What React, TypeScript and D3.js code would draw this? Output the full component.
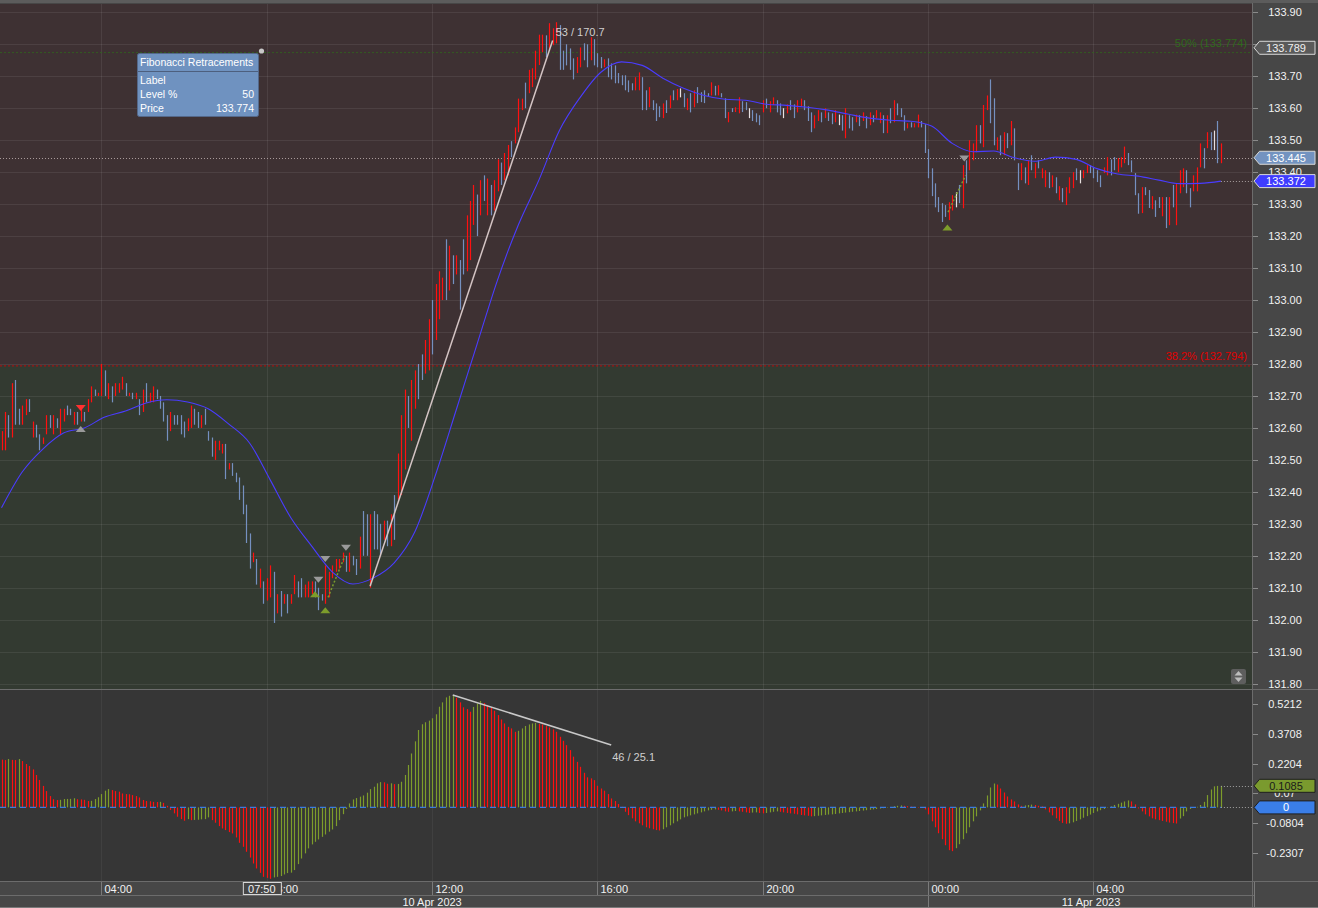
import React from 'react';
import * as d3 from 'd3';

// ---------- DATA ----------
const START = Date.UTC(2023, 3, 10, 1, 35); // first bar 10 Apr 2023 01:35 (5-minute bars)
const BAR_MIN = 5;

const barHigh = [
  132.59,132.65,132.64,132.74,132.75,132.66,132.67,132.69,132.69,132.62,
  132.61,132.58,132.57,132.64,132.64,132.64,132.63,132.66,132.66,132.67,
  132.66,132.65,132.65,132.66,132.65,132.69,132.73,132.72,132.71,132.80,
  132.78,132.74,132.73,132.74,132.74,132.76,132.74,132.71,132.71,132.71,
  132.69,132.72,132.74,132.71,132.73,132.72,132.70,132.68,132.64,132.65,
  132.64,132.64,132.64,132.62,132.63,132.67,132.66,132.65,132.64,132.66,
  132.59,132.57,132.56,132.56,132.55,132.55,132.49,132.49,132.46,132.445,
  132.42,132.36,132.27,132.21,132.19,132.16,132.12,132.13,132.17,132.15,
  132.08,132.09,132.08,132.08,132.08,132.14,132.12,132.13,132.11,132.12,
  132.12,132.12,132.10,132.08,132.17,132.15,132.17,132.19,132.19,132.21,
  132.20,132.21,132.20,132.19,132.26,132.34,132.33,132.33,132.34,132.33,
  132.30,132.31,132.31,132.33,132.39,132.52,132.64,132.72,132.70,132.75,
  132.78,132.80,132.83,132.875,132.94,133.00,133.05,133.09,133.07,133.19,
  133.17,133.14,133.14,133.125,133.19,133.265,133.31,133.36,133.33,133.375,
  133.39,133.38,133.36,133.375,133.44,133.43,133.46,133.485,133.497,133.54,
  133.63,133.63,133.68,133.72,133.725,133.78,133.83,133.83,133.828,133.866,
  133.85,133.869,133.86,133.78,133.80,133.787,133.756,133.76,133.79,133.803,
  133.80,133.822,133.816,133.772,133.76,133.753,133.756,133.74,133.734,133.71,
  133.703,133.703,133.687,133.678,133.697,133.712,133.697,133.656,133.666,133.625,
  133.615,133.606,133.615,133.625,133.64,133.656,133.66,133.662,133.647,133.631,
  133.647,133.656,133.666,133.65,133.656,133.647,133.681,133.67,133.672,133.647,
  133.631,133.588,133.60,133.603,133.634,133.622,133.619,133.60,133.594,133.584,
  133.578,133.625,133.63,133.622,133.634,133.625,133.615,133.60,133.612,133.625,
  133.612,133.625,133.63,133.625,133.606,133.587,133.578,133.594,133.587,133.60,
  133.587,133.584,133.594,133.58,133.578,133.60,133.578,133.572,133.58,133.578,
  133.587,133.575,133.587,133.578,133.594,133.587,133.578,133.578,133.60,133.625,
  133.615,133.60,133.578,133.553,133.556,133.553,133.58,133.56,133.55,133.472,
  133.412,133.365,133.322,133.303,133.297,133.306,133.328,133.337,133.36,133.422,
  133.437,133.50,133.49,133.547,133.547,133.61,133.64,133.69,133.631,133.509,
  133.515,133.525,133.522,133.56,133.537,133.428,133.428,133.415,133.437,133.453,
  133.428,133.437,133.412,133.406,133.40,133.39,133.384,133.356,133.35,133.353,
  133.384,133.40,133.412,133.406,133.406,133.422,133.422,133.415,133.406,133.39,
  133.415,133.447,133.44,133.447,133.444,133.447,133.48,133.46,133.437,133.397,
  133.334,133.353,133.353,133.344,133.325,133.312,133.322,133.322,133.322,133.322,
  133.36,133.365,133.406,133.412,133.406,133.35,133.39,133.415,133.49,133.475,
  133.525,133.525,133.53,133.56,133.49,
];

const barLow = [
  132.53,132.53,132.57,132.57,132.61,132.61,132.61,132.64,132.65,132.57,
  132.57,132.53,132.55,132.58,132.60,132.58,132.60,132.58,132.62,132.64,
  132.64,132.61,132.61,132.62,132.62,132.65,132.68,132.70,132.70,132.70,
  132.70,132.69,132.68,132.70,132.71,132.72,132.70,132.70,132.69,132.69,
  132.64,132.65,132.68,132.68,132.68,132.69,132.66,132.62,132.56,132.59,
  132.61,132.61,132.58,132.57,132.59,132.60,132.61,132.60,132.60,132.61,
  132.56,132.51,132.50,132.53,132.52,132.44,132.47,132.45,132.43,132.375,
  132.33,132.24,132.16,132.18,132.11,132.10,132.05,132.06,132.07,131.99,
  132.02,132.01,132.05,132.02,132.05,132.08,132.07,132.07,132.07,132.07,
  132.08,132.07,132.03,132.06,132.05,132.07,132.13,132.15,132.16,132.18,
  132.15,132.15,132.17,132.14,132.16,132.20,132.20,132.10,132.22,132.22,
  132.20,132.25,132.23,132.23,132.25,132.375,132.39,132.47,132.60,132.56,
  132.66,132.69,132.75,132.77,132.78,132.83,132.875,132.94,133.00,133.00,
  133.03,133.05,133.08,132.97,133.08,133.09,133.125,133.235,133.20,133.265,
  133.31,133.265,133.265,133.28,133.34,133.36,133.375,133.39,133.447,133.49,
  133.525,133.594,133.60,133.647,133.666,133.69,133.735,133.775,133.76,133.78,
  133.797,133.803,133.72,133.72,133.734,133.72,133.69,133.71,133.728,133.75,
  133.728,133.75,133.734,133.728,133.725,133.728,133.697,133.69,133.678,133.678,
  133.672,133.656,133.65,133.656,133.656,133.656,133.594,133.594,133.603,133.594,
  133.56,133.572,133.569,133.585,133.60,133.625,133.625,133.634,133.603,133.594,
  133.587,133.603,133.616,133.619,133.616,133.638,133.64,133.64,133.64,133.634,
  133.569,133.556,133.588,133.588,133.584,133.588,133.594,133.569,133.56,133.556,
  133.547,133.587,133.60,133.587,133.61,133.587,133.578,133.569,133.584,133.594,
  133.569,133.587,133.606,133.594,133.56,133.525,133.537,133.56,133.556,133.569,
  133.56,133.55,133.556,133.547,133.53,133.506,133.537,133.53,133.556,133.544,
  133.56,133.537,133.547,133.556,133.569,133.553,133.522,133.522,133.553,133.556,
  133.578,133.572,133.53,133.537,133.54,133.54,133.54,133.54,133.46,133.381,
  133.325,133.29,133.275,133.244,133.26,133.25,133.28,133.29,133.303,133.287,
  133.365,133.406,133.437,133.462,133.49,133.478,133.594,133.553,133.484,133.469,
  133.453,133.453,133.475,133.484,133.437,133.344,133.375,133.365,133.36,133.406,
  133.381,133.412,133.381,133.353,133.35,133.353,133.334,133.312,133.306,133.297,
  133.334,133.35,133.375,133.365,133.381,133.397,133.397,133.381,133.369,133.353,
  133.397,133.39,133.39,133.406,133.40,133.415,133.428,133.422,133.40,133.328,
  133.27,133.272,133.328,133.288,133.284,133.26,133.288,133.262,133.225,133.234,
  133.29,133.234,133.334,133.353,133.334,133.29,133.34,133.34,133.415,133.412,
  133.475,133.469,133.469,133.428,133.428,
];

// r = rising bar (red), b = falling bar (blue), w = unchanged (white)
const barKind = (
  "rrbrbbrrbr" + "bbrrbrbrrb" + "brbrbrrbrr" + "brbrrrbrbr" + "brbrrbbbbr" +
  "bbbbrrbbrb" + "bbrrrbrbbb" + "bbbrbrbrrb" + "rbrbrrbbrr" + "rbbbrrrrrr" +
  "brbbrbbrbb" + "brbrbrrrbr" + "rbbrrbrrrb" + "rbrbbrrrbr" + "brbrrbrrbr" +
  "rrbrrrrrbr" + "rrbbbbbrrb" + "brbbbrbbbb" + "bbbbrrbbrb" + "bbrbrbrwbr" +
  "brbbbbrbrb" + "brbrrbbwbb" + "brbrrbbwrb" + "brrbbbrrbr" + "bbrwbrbbrb" +
  "rbrbrrbrbr" + "bbbrbrrbbb" + "bbbbbrrwbr" + "brrrbrrbbr" + "brbrbbrbrb" +
  "rbrrbrbrbr" + "rrbwrrbbbb" + "rrbbrrrbbb" + "brbbrbbrbr" + "brrrbbrrrb" +
  "rbwbr"
).split("");

// moving average, read every 6th bar
const maBar = [0,6,12,18,24,30,36,42,48,54,60,66,72,78,84,90,96,102,108,114,120,126,132,138,144,150,156,162,168,174,
  180,186,192,198,204,210,216,222,228,234,240,246,252,258,264,270,276,282,288,294,300,306,312,318,324,330,336,342,348,354];
const maValue = [132.35,132.462,132.534,132.584,132.60,132.634,132.653,132.678,132.688,132.681,132.66,132.612,132.553,132.4375,132.319,
  132.231,132.15,132.112,132.131,132.178,132.275,132.453,132.656,132.86,133.0625,133.234,133.375,133.531,133.634,133.7125,
  133.745,133.734,133.694,133.6625,133.64,133.628,133.625,133.6125,133.609,133.603,133.594,133.581,133.569,133.5625,133.559,
  133.544,133.49,133.464,133.466,133.445,133.434,133.447,133.44,133.411,133.394,133.3875,133.375,133.364,133.365,133.372];

// oscillator histogram, one value per bar
const histValue = [
  0.240,0.238,0.243,0.239,0.238,0.243,0.233,0.218,0.208,0.191,
  0.163,0.138,0.108,0.082,0.057,0.041,0.037,0.038,0.042,0.0425,
  0.043,0.046,0.041,0.040,0.038,0.032,0.033,0.042,0.051,0.067,
  0.084,0.092,0.087,0.082,0.079,0.070,0.067,0.066,0.062,0.057,
  0.050,0.037,0.032,0.031,0.028,0.027,0.028,0.023,0.008,-0.013,
  -0.030,-0.047,-0.059,-0.067,-0.059,-0.064,-0.063,-0.062,-0.060,-0.059,
  -0.050,-0.064,-0.077,-0.094,-0.106,-0.114,-0.124,-0.131,-0.151,-0.178,
  -0.198,-0.223,-0.252,-0.282,-0.307,-0.329,-0.349,-0.354,-0.359,-0.352,
  -0.349,-0.345,-0.337,-0.330,-0.328,-0.315,-0.285,-0.257,-0.231,-0.206,
  -0.186,-0.173,-0.161,-0.148,-0.136,-0.122,-0.111,-0.094,-0.064,-0.034,
  -0.008,0.020,0.040,0.047,0.054,0.060,0.074,0.092,0.104,0.121,
  0.127,0.126,0.119,0.121,0.117,0.118,0.129,0.163,0.213,0.271,
  0.332,0.389,0.418,0.428,0.436,0.448,0.468,0.506,0.528,0.553,
  0.561,0.565,0.551,0.528,0.503,0.494,0.481,0.505,0.522,0.535,
  0.525,0.514,0.503,0.486,0.464,0.442,0.422,0.405,0.397,0.380,
  0.385,0.397,0.409,0.417,0.422,0.425,0.420,0.417,0.409,0.402,
  0.392,0.380,0.355,0.335,0.313,0.288,0.255,0.229,0.204,0.174,
  0.151,0.146,0.137,0.109,0.095,0.084,0.067,0.045,0.032,0.017,
  0.003,-0.022,-0.039,-0.055,-0.07,-0.08,-0.09,-0.10,-0.105,-0.11,
  -0.114,-0.116,-0.11,-0.10,-0.09,-0.08,-0.07,-0.06,-0.05,-0.045,
  -0.04,-0.035,-0.03,-0.025,-0.02,-0.015,-0.012,-0.01,-0.012,-0.015,
  -0.02,-0.022,-0.02,-0.018,-0.02,-0.022,-0.025,-0.028,-0.026,-0.025,
  -0.028,-0.03,-0.028,-0.025,-0.022,-0.02,-0.022,-0.025,-0.028,-0.03,
  -0.032,-0.035,-0.038,-0.04,-0.042,-0.045,-0.044,-0.042,-0.04,-0.038,
  -0.036,-0.035,-0.033,-0.03,-0.028,-0.026,-0.024,-0.022,-0.02,-0.018,
  -0.016,-0.014,-0.012,-0.01,-0.008,-0.006,-0.004,-0.002,0.002,0.006,
  0.008,0.01,0.008,0.006,0.004,0.003,0.002,0.0,-0.01,-0.035,
  -0.07,-0.10,-0.13,-0.16,-0.19,-0.215,-0.22,-0.205,-0.185,-0.16,
  -0.13,-0.10,-0.07,-0.045,-0.015,0.02,0.06,0.10,0.12,0.115,
  0.095,0.075,0.055,0.04,0.03,0.015,0.008,0.01,0.012,0.014,
  0.012,0.008,0.005,-0.01,-0.025,-0.04,-0.055,-0.068,-0.078,-0.082,
  -0.08,-0.075,-0.068,-0.06,-0.052,-0.044,-0.036,-0.028,-0.02,-0.014,
  -0.008,-0.002,0.005,0.012,0.018,0.024,0.03,0.035,0.03,0.015,
  -0.005,-0.02,-0.035,-0.045,-0.055,-0.06,-0.064,-0.068,-0.072,-0.076,
  -0.079,-0.081,-0.056,-0.044,-0.020,-0.008,-0.002,0.003,0.012,0.028,
  0.062,0.090,0.106,0.108,0.1085,
];

const priceTicks = [133.9,133.8,133.7,133.6,133.5,133.4,133.3,133.2,133.1,133.0,132.9,132.8,132.7,132.6,132.5,132.4,132.3,132.2,132.1,132.0,131.9,131.8];
const histTicks = [0.5212,0.3708,0.2204,0.07,-0.0804,-0.2307];
const histTickLabels = ["0.5212","0.3708","0.2204","0.07","-0.0804","-0.2307"];
const dateLabels = ["10 Apr 2023","11 Apr 2023"];
const dayStarts = [Date.UTC(2023,3,10), Date.UTC(2023,3,11)];

const fibLevels = [
  { label: "50% (133.774)", price: 133.774, color: "#2f6a1c" },
  { label: "38.2% (132.794)", price: 132.794, color: "#e00000" },
];
const lastPrice = 133.445;
const crossPrice = 133.789;
const lastMA = 133.372;
const lastHist = 0.1085;
const crossTime = Date.UTC(2023,3,10,7,50);

// trend lines: [bar, value]
const priceTrend = { from: [107, 132.105], to: [160, 133.812], label: "53 / 170.7" };
const histTrend = { from: [131, 0.565], to: [177, 0.314], label: "46 / 25.1" };

// zigzag markers
const zigMarkers = [
  { bar: 23, price: 132.662, kind: "downRed" },
  { bar: 23, price: 132.597, kind: "upGrey" },
  { bar: 92, price: 132.125, kind: "downGrey" },
  { bar: 94, price: 132.19, kind: "downGrey" },
  { bar: 100, price: 132.225, kind: "downGrey" },
  { bar: 91, price: 132.08, kind: "upGreen" },
  { bar: 94, price: 132.03, kind: "upGreen" },
  { bar: 274.6, price: 133.227, kind: "upGreen" },
  { bar: 279.5, price: 133.443, kind: "downGrey" },
];
const zigLinks = [
  { from: [94.8, 132.07], to: [99.7, 132.20] },
  { from: [274.8, 133.275], to: [279.9, 133.39] },
];

const FONT = "'Liberation Sans', Arial, sans-serif";

export default function App() {
  const W = 1318, H = 908;
  const plotR = 1252;
  const priceTop = 4, priceBot = 689;
  const histTop = 690, histBot = 881;
  const n = barHigh.length;
  const barTime = (i: number) => new Date(START + i * BAR_MIN * 60000);
  const x = d3.scaleUtc().domain([barTime(0), barTime(n - 1)]).range([1.5, 1220.9]);
  const xb = (i: number) => x(barTime(i));
  const y = d3.scaleLinear().domain([133.9, 131.8]).range([12.3, 683.7]);
  const yh = d3.scaleLinear().domain([0.5212, -0.2307]).range([703.7, 853.3]);
  const timeTicks = x.ticks(d3.utcHour.every(4) as any);
  const fmtT = d3.utcFormat("%H:%M");
  const fmtP = d3.format(".2f");

  const fibSplit = y(132.794);
  const maPath = d3.line<number>()
    .x((_, k) => xb(maBar[k]))
    .y(d => y(d))
    .curve(d3.curveMonotoneX)(maValue) || "";

  const gridCol = "rgba(255,255,255,0.075)";
  const axisCol = "#474747";
  const lineCol = "#6c6c6c";

  const marker = (yc: number, fill: string, stroke: string, text: string, tcol: string, key: string) => (
    <g key={key}>
      <path d={`M1254,${yc} L1259.5,${yc - 6.5} L1315,${yc - 6.5} L1315,${yc + 6.5} L1259.5,${yc + 6.5} Z`}
        fill={fill} stroke={stroke} strokeWidth={1} />
      <text x={1286} y={yc + 4} fill={tcol} fontSize={11} textAnchor="middle" fontFamily={FONT}>{text}</text>
    </g>
  );

  const tri = (cx: number, cy: number, up: boolean, color: string, key: string) => (
    <path key={key} d={up ? `M${cx - 5},${cy + 3} L${cx + 5},${cy + 3} L${cx},${cy - 3} Z` : `M${cx - 5},${cy - 3} L${cx + 5},${cy - 3} L${cx},${cy + 3} Z`} fill={color} />
  );

  const dayEnd = (k: number) => Math.min(x(new Date(dayStarts[k] + 86400000)), 1254);
  // tick labels that sit right under the cross-hair price marker are covered by it
  const visiblePriceLabels = priceTicks.filter(t => Math.abs(y(t) - y(crossPrice)) > 6);

  return (
    <svg width={W} height={H} style={{ position: 'absolute', left: 0, top: 0, display: 'block' }} fontFamily={FONT}>
      <defs>
        <clipPath id="cp"><rect x={0} y={priceTop} width={plotR} height={priceBot - priceTop} /></clipPath>
        <clipPath id="ch"><rect x={0} y={histTop} width={plotR} height={histBot - histTop} /></clipPath>
      </defs>
      <rect x={0} y={0} width={W} height={H} fill={axisCol} />
      <rect x={0} y={0} width={W} height={3} fill="#5c5c5c" />
      {/* price panel backgrounds */}
      <rect x={0} y={priceTop} width={plotR} height={fibSplit - priceTop} fill="#3e3133" />
      <rect x={0} y={fibSplit} width={plotR} height={priceBot - fibSplit} fill="#333a31" />
      {/* hist panel bg */}
      <rect x={0} y={histTop} width={plotR} height={histBot - histTop} fill="#363636" />

      {/* grids */}
      <g clipPath="url(#cp)">
        {priceTicks.map(t => <line key={'g' + t} x1={0} x2={plotR} y1={Math.round(y(t)) + 0.5} y2={Math.round(y(t)) + 0.5} stroke={gridCol} />)}
        {timeTicks.map(t => <line key={'v' + +t} x1={Math.round(x(t)) + 0.5} x2={Math.round(x(t)) + 0.5} y1={priceTop} y2={priceBot} stroke={gridCol} />)}
      </g>
      <g clipPath="url(#ch)">
        {timeTicks.map(t => <line key={'vh' + +t} x1={Math.round(x(t)) + 0.5} x2={Math.round(x(t)) + 0.5} y1={histTop} y2={histBot} stroke="rgba(255,255,255,0.05)" />)}
      </g>

      {/* price panel content */}
      <g clipPath="url(#cp)">
        {fibLevels.map(f => (
          <line key={f.label} x1={0} x2={plotR} y1={y(f.price)} y2={y(f.price)} stroke={f.color} strokeOpacity={0.75} strokeDasharray="2,2" />
        ))}
        <line x1={0} x2={plotR} y1={Math.round(y(lastPrice)) + 0.5} y2={Math.round(y(lastPrice)) + 0.5} stroke="#a89a9a" strokeDasharray="1,2" />
        <line x1={xb(n - 1)} x2={plotR} y1={Math.round(y(lastMA)) + 0.5} y2={Math.round(y(lastMA)) + 0.5} stroke="#a8a0a0" strokeDasharray="1,2" />
        {barHigh.map((h, i) => {
          const k = barKind[i];
          const col = k === 'r' ? '#ff1010' : k === 'w' ? '#e8e0e0' : '#7590c0';
          const xx = Math.round(xb(i)) + 0.5;
          return <line key={'b' + i} x1={xx} x2={xx} y1={y(h)} y2={Math.max(y(barLow[i]), y(h) + 2)} stroke={col} strokeWidth={1.2} />;
        })}
        <path d={maPath} fill="none" stroke="#4a3cff" strokeWidth={1.1} />
        {zigLinks.map((l, k) => (
          <line key={'zl' + k} x1={xb(l.from[0])} y1={y(l.from[1])} x2={xb(l.to[0])} y2={y(l.to[1])} stroke="#7a9a2e" strokeWidth={1.5} strokeDasharray="2,2" />
        ))}
        {zigMarkers.map((m, k) => {
          const cx = xb(m.bar), cy = y(m.price);
          if (m.kind === 'downRed') return tri(cx, cy, false, '#ff3030', 'zm' + k);
          if (m.kind === 'upGrey') return tri(cx, cy, true, '#9a9a9a', 'zm' + k);
          if (m.kind === 'downGrey') return tri(cx, cy, false, '#9a9a9a', 'zm' + k);
          return tri(cx, cy, true, '#7d9c2b', 'zm' + k);
        })}
        <line x1={xb(priceTrend.from[0])} y1={y(priceTrend.from[1])} x2={xb(priceTrend.to[0])} y2={y(priceTrend.to[1])} stroke="#d4c4c4" strokeWidth={1.5} />
        <text x={xb(priceTrend.to[0]) + 3} y={y(priceTrend.to[1]) - 4} fill="#cfcfcf" fontSize={11}>{priceTrend.label}</text>
        {fibLevels.map(f => (
          <text key={'ft' + f.label} x={1247} y={y(f.price) - 6} fill={f.color} fontSize={11} textAnchor="end">{f.label}</text>
        ))}
      </g>

      {/* fib info box */}
      <g>
        <rect x={137.5} y={53.5} width={121} height={63} rx={2} fill="#6f92c0" stroke="#54688a" />
        <line x1={138} x2={258} y1={71.5} y2={71.5} stroke="#4d5f7e" />
        <text x={140} y={66} fill="#ffffff" fontSize={10.5}>Fibonacci Retracements</text>
        <text x={140} y={84} fill="#ffffff" fontSize={10.5}>Label</text>
        <text x={140} y={98} fill="#ffffff" fontSize={10.5}>Level %</text>
        <text x={254} y={98} fill="#ffffff" fontSize={10.5} textAnchor="end">50</text>
        <text x={140} y={112} fill="#ffffff" fontSize={10.5}>Price</text>
        <text x={254} y={112} fill="#ffffff" fontSize={10.5} textAnchor="end">133.774</text>
        <circle cx={261.5} cy={51} r={2.6} fill="#c8c8c8" />
      </g>

      {/* scroll widget */}
      <g>
        <rect x={1231} y={669} width={15} height={15} rx={2} fill="#5e5e5e" />
        <path d="M1234.5,675.5 L1242.5,675.5 L1238.5,671 Z" fill="#bdbdbd" />
        <path d="M1234.5,677.5 L1242.5,677.5 L1238.5,682 Z" fill="#bdbdbd" />
      </g>

      {/* histogram */}
      <g clipPath="url(#ch)">
        {histValue.map((v, i) => {
          const up = i === 0 ? false : v > histValue[i - 1];
          const xx = Math.round(xb(i)) + 0.5;
          return <line key={'h' + i} x1={xx} x2={xx} y1={yh(0)} y2={yh(v)} stroke={up ? '#7d9c2b' : '#ff1010'} strokeWidth={1.2} />;
        })}
        <line x1={0} x2={xb(n - 1)} y1={yh(0)} y2={yh(0)} stroke="#3a7be0" strokeWidth={1.2} strokeDasharray="6,4" />
        <line x1={xb(n - 1)} x2={plotR} y1={Math.round(yh(0)) + 0.5} y2={Math.round(yh(0)) + 0.5} stroke="#a0a0a0" strokeDasharray="1,2" />
        <line x1={xb(n - 1)} x2={plotR} y1={Math.round(yh(lastHist)) + 0.5} y2={Math.round(yh(lastHist)) + 0.5} stroke="#a0a0a0" strokeDasharray="1,2" />
        <line x1={xb(histTrend.from[0])} y1={yh(histTrend.from[1])} x2={xb(histTrend.to[0])} y2={yh(histTrend.to[1])} stroke="#c8c8c8" strokeWidth={1.5} />
        <text x={xb(histTrend.to[0]) + 1} y={yh(histTrend.to[1]) + 16} fill="#cfcfcf" fontSize={11}>{histTrend.label}</text>
      </g>

      {/* panel separators */}
      <line x1={0} x2={W} y1={689.5} y2={689.5} stroke={lineCol} />
      <line x1={plotR + 0.5} x2={plotR + 0.5} y1={3} y2={908} stroke={lineCol} />

      {/* price axis */}
      {priceTicks.map(t => (
        <line key={'ptl' + t} x1={plotR + 1} x2={plotR + 6} y1={Math.round(y(t)) + 0.5} y2={Math.round(y(t)) + 0.5} stroke="#8a8a8a" />
      ))}
      {visiblePriceLabels.map(t => (
        <text key={'pt' + t} x={1285} y={y(t) + 4} fill="#f2f2f2" fontSize={11} textAnchor="middle">{fmtP(t)}</text>
      ))}
      {marker(y(crossPrice), '#5a5a5a', '#d8d8d8', d3.format(".3f")(crossPrice), '#f0f0f0', 'mc')}
      {marker(y(lastPrice), '#7393c0', '#d8d8d8', d3.format(".3f")(lastPrice), '#ffffff', 'ml')}
      {marker(y(lastMA), '#3f3cff', '#d8d8d8', d3.format(".3f")(lastMA), '#ffffff', 'mm')}

      {/* hist axis */}
      {histTicks.map((t, k) => (
        <g key={'ht' + k}>
          <line x1={plotR + 1} x2={plotR + 6} y1={Math.round(yh(t)) + 0.5} y2={Math.round(yh(t)) + 0.5} stroke="#8a8a8a" />
          <text x={1285} y={yh(t) + 4} fill="#f2f2f2" fontSize={11} textAnchor="middle">{histTickLabels[k]}</text>
        </g>
      ))}
      {marker(yh(lastHist), '#7a9a2e', '#1e1e1e', String(lastHist), '#1a1a1a', 'mh')}
      {marker(yh(0), '#3a7ee8', '#1e1e1e', '0', '#ffffff', 'mz')}

      {/* time axis */}
      <line x1={0} x2={W} y1={881.5} y2={881.5} stroke={lineCol} />
      <line x1={0} x2={1254} y1={895.5} y2={895.5} stroke={lineCol} />
      <line x1={0} x2={W} y1={907.5} y2={907.5} stroke="#7a7a7a" />
      {timeTicks.map(t => {
        const xx = Math.round(x(t)) + 0.5;
        return (
          <g key={'tt' + +t}>
            <line x1={xx} x2={xx} y1={882} y2={895} stroke="#7a7a7a" />
            <text x={xx + 3} y={893} fill="#f2f2f2" fontSize={11}>{fmtT(t)}</text>
          </g>
        );
      })}
      {dayStarts.map((d, k) => {
        const xs = x(new Date(d));
        const xe = dayEnd(k);
        return (
          <g key={'d' + k}>
            {xs > 0 && <line x1={Math.round(xs) + 0.5} x2={Math.round(xs) + 0.5} y1={896} y2={907} stroke="#7a7a7a" />}
            <text x={(xs + xe) / 2} y={905.5} fill="#f2f2f2" fontSize={11} textAnchor="middle">{dateLabels[k]}</text>
          </g>
        );
      })}
      <line x1={1254.5} x2={1254.5} y1={882} y2={908} stroke="#7a7a7a" />
      {/* crosshair time label */}
      <g>
        <rect x={x(new Date(crossTime)) - 16.5} y={882.5} width={38} height={12} fill="#464646" stroke="#d8d8d8" />
        <text x={x(new Date(crossTime)) + 2} y={893} fill="#f2f2f2" fontSize={11} textAnchor="middle">{fmtT(new Date(crossTime))}</text>
      </g>
    </svg>
  );
}
